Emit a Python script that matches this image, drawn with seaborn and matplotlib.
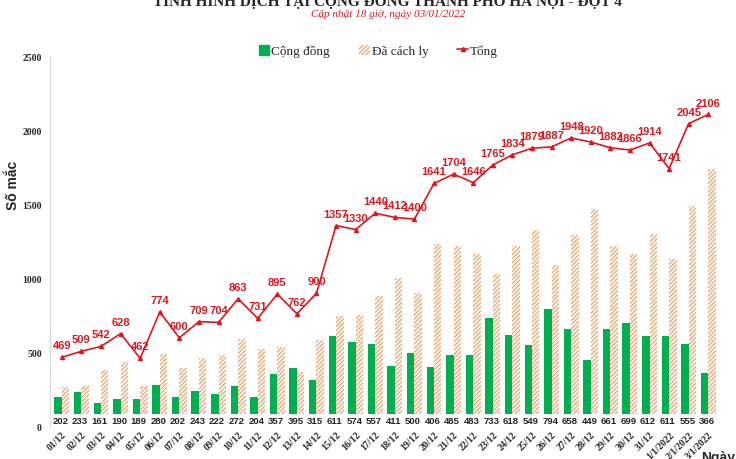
import pandas as pd
import matplotlib
matplotlib.use("Agg")
import matplotlib.pyplot as plt
import seaborn as sns
from matplotlib.patches import Patch
from matplotlib.lines import Line2D

# Data
days = ["01/12", "02/12", "03/12", "04/12", "05/12", "06/12", "07/12", "08/12",
        "09/12", "10/12", "11/12", "12/12", "13/12", "14/12", "15/12", "16/12",
        "17/12", "18/12", "19/12", "20/12", "21/12", "22/12", "23/12", "24/12",
        "25/12", "26/12", "27/12", "28/12", "29/12", "30/12", "31/12",
        "1/1/2022", "2/1/2022", "3/1/2022"]
community = [202, 233, 161, 190, 189, 280, 202, 243, 222, 272, 204, 357, 395, 315,
             611, 574, 557, 411, 500, 406, 485, 483, 733, 618, 549, 794, 658, 449,
             661, 699, 612, 611, 555, 366]
total = [469, 509, 542, 628, 462, 774, 600, 709, 704, 863, 731, 895, 762, 900,
         1357, 1330, 1440, 1412, 1400, 1641, 1704, 1646, 1765, 1834, 1879, 1887,
         1948, 1920, 1882, 1866, 1914, 1741, 2045, 2106]
isolated = [t - c for t, c in zip(total, community)]

GREEN = "#00b050"
HATCH = "#eea56b"
RED = "#e3151c"

df = pd.DataFrame({
    "day": days * 2,
    "value": community + isolated,
    "series": ["Cộng đồng"] * len(days) + ["Đã cách ly"] * len(days),
})
df_total = pd.DataFrame({"day": days, "total": total})

sns.set_style("white")
plt.rcParams["font.family"] = ["Liberation Serif", "DejaVu Serif"]
plt.rcParams["hatch.color"] = HATCH
plt.rcParams["hatch.linewidth"] = 0.9

fig = plt.figure(figsize=(7.36, 4.6), dpi=100)
ax = fig.add_axes([0.068, 0.07, 0.913, 0.806])

sns.barplot(data=df, x="day", y="value", hue="series",
            palette=[GREEN, "white"], width=0.76, ax=ax, legend=False,
            saturation=1, linewidth=0)
for bar in ax.containers[0]:
    bar.set_edgecolor(GREEN)
for bar in ax.containers[1]:
    bar.set_hatch("////////")
    bar.set_edgecolor(HATCH)
    bar.set_linewidth(0)

sns.pointplot(data=df_total, x="day", y="total", color=RED, markers="^",
              markersize=3, linewidth=1.2, ax=ax)

# labels for the total line
for i, v in enumerate(total):
    ax.annotate(str(v), (i, v), xytext=(0, 5), textcoords="offset points",
                ha="center", va="bottom", color=RED, fontsize=8,
                fontweight="bold", family="Liberation Sans")

# community values near the bottom
for bar, v in zip(ax.containers[0], community):
    cx = bar.get_x() + bar.get_width() / 2 + 0.12
    ax.text(cx, 45, str(v), ha="center", va="center", fontsize=6.8,
            fontweight="bold", family="Liberation Sans", color="#222222",
            bbox=dict(boxstyle="square,pad=0.2", fc="white", ec="none"))

ax.set_ylim(0, 2500)
ax.set_xlim(-0.6, len(days) - 0.3)
ax.set_yticks(range(0, 2501, 500))
ax.tick_params(axis="y", labelsize=7, length=0, pad=6)
ax.tick_params(axis="x", labelsize=7, length=0, pad=2)
for lab in ax.get_yticklabels():
    lab.set_fontweight("bold")
ax.set_xticks(range(len(days)))
ax.set_xticklabels(days, rotation=45, ha="right", rotation_mode="anchor",
                   fontweight="bold")
ax.set_xlabel("")
ax.set_ylabel("Số mắc", fontsize=10, fontweight="bold",
              family="Liberation Sans")
ax.yaxis.set_label_coords(-0.045, 0.655)

for s in ["top", "right", "bottom"]:
    ax.spines[s].set_visible(False)
ax.spines["left"].set_color("#d9d9d9")

handles = [
    Patch(facecolor=GREEN, edgecolor=GREEN, label="Cộng đồng"),
    Patch(facecolor="white", edgecolor=HATCH, hatch="////////", linewidth=0,
          label="Đã cách ly"),
    Line2D([0], [0], color=RED, marker="^", markersize=3, linewidth=1.2,
           label="Tổng"),
]
fig.legend(handles=handles, loc="center", bbox_to_anchor=(0.514, 0.887),
           ncol=3, frameon=False, fontsize=9.5, handlelength=0.8,
           handleheight=0.8, handletextpad=0.15, columnspacing=2.2)

fig.text(0.527, 0.998, "TÌNH HÌNH DỊCH TẠI CỘNG ĐỒNG THÀNH PHỐ HÀ NỘI - ĐỢT 4",
         ha="center", va="center", fontsize=11, fontweight="bold")
fig.text(0.527, 0.968, "Cập nhật 18 giờ, ngày 03/01/2022", ha="center",
         va="center", fontsize=8, style="italic", color=RED)
fig.text(0.952, 0.005, "Ngày", ha="left", va="center", fontsize=10,
         fontweight="bold", family="Liberation Sans")

fig.savefig("out.png", dpi=100, facecolor="white")
